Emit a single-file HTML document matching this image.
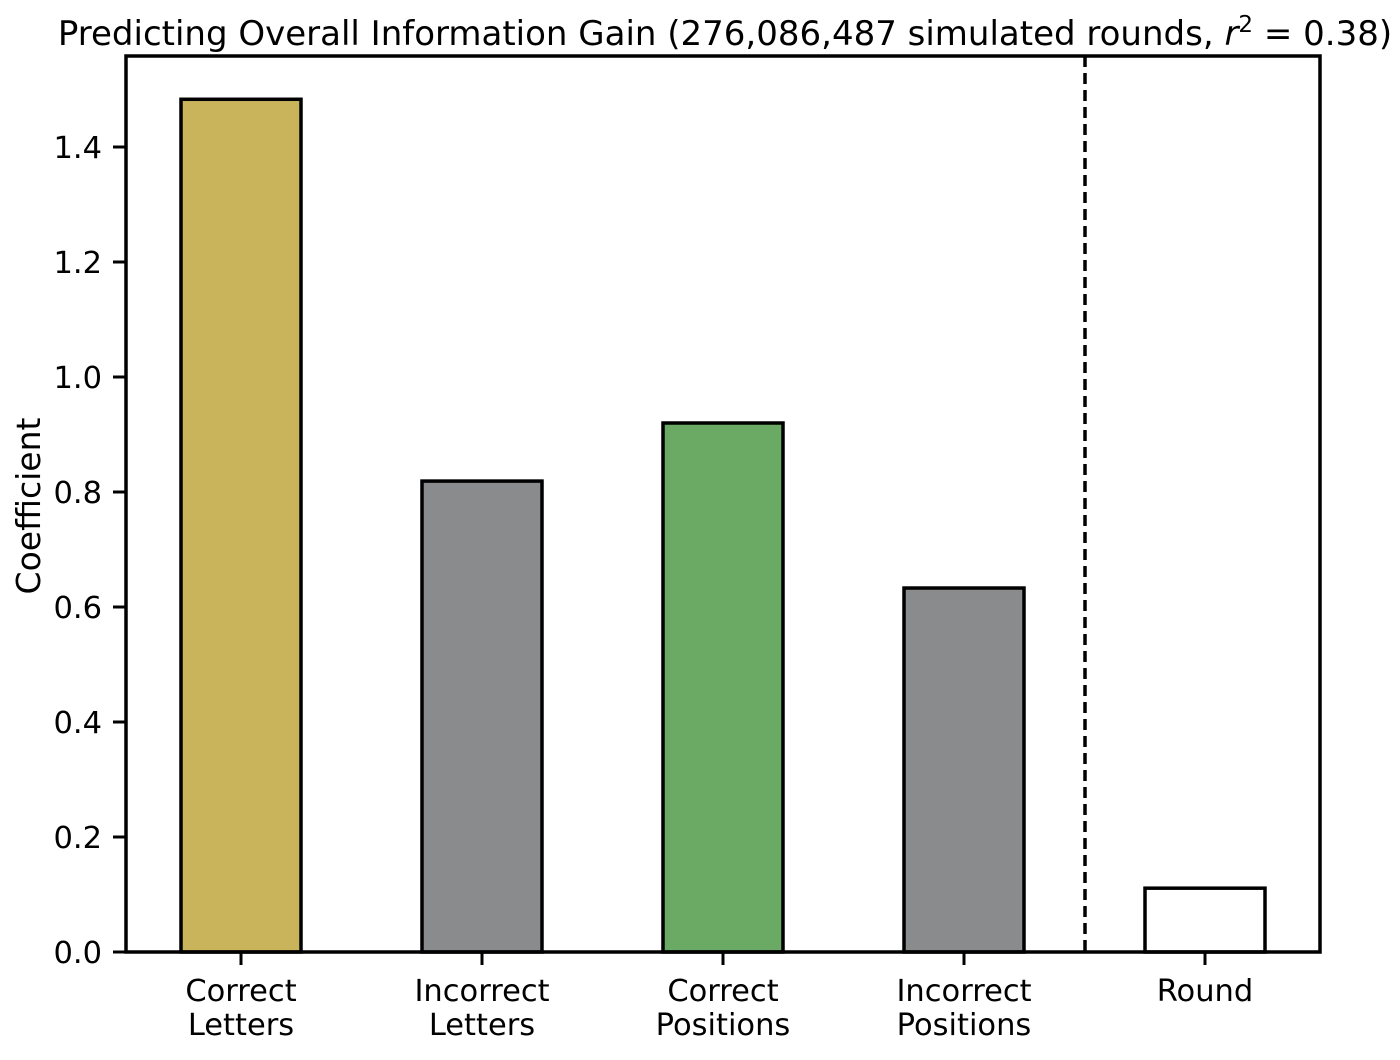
<!DOCTYPE html>
<html><head><meta charset="utf-8"><style>
body{margin:0;background:#fff}
svg text{font-family:"DejaVu Sans","Liberation Sans",sans-serif;fill:#000}
</style></head><body>
<svg id="chart" width="1400" height="1055" xmlns="http://www.w3.org/2000/svg">
<text x="725" y="45" font-size="34" text-anchor="middle">Predicting Overall Information Gain (276,086,487 simulated rounds, <tspan font-style="italic">r</tspan><tspan dy="-13" font-size="23">2</tspan><tspan dy="13"> = 0.38)</tspan></text>
<text transform="translate(40,506) rotate(-90)" font-size="33" text-anchor="middle">Coefficient</text>
<g id="bars"></g>
<g id="yaxis"></g>
<g id="xaxis"></g>
<line x1="1085" y1="56" x2="1085" y2="952" stroke="#000" stroke-width="3.5" stroke-dasharray="11,6"/>
<rect x="126" y="56" width="1194" height="896" fill="none" stroke="#000" stroke-width="3.5"/>
</svg>
<script>
const categories=[["Correct","Letters"],["Incorrect","Letters"],["Correct","Positions"],["Incorrect","Positions"],["Round"]];
const values=[1.483,0.819,0.92,0.633,0.111];
const colors=["#c9b45c","#8a8b8c","#6aaa64","#8a8b8c","#ffffff"];
const yTicks=[0,0.2,0.4,0.6,0.8,1.0,1.2,1.4];
const yTickLabels=["0.0","0.2","0.4","0.6","0.8","1.0","1.2","1.4"];
const NS="http://www.w3.org/2000/svg";
const y0=952,pxPerUnit=575;
const y=v=>y0-v*pxPerUnit;
const x=i=>241+i*241;
const bw=120;
function mk(t,a,p){const e=document.createElementNS(NS,t);for(const k in a)e.setAttribute(k,a[k]);p.appendChild(e);return e;}
const bars=document.getElementById('bars'),ya=document.getElementById('yaxis'),xa=document.getElementById('xaxis');
values.forEach((v,i)=>{
 const r=mk('rect',{x:x(i)-bw/2,y:y(v),width:bw,height:y0-y(v),fill:colors[i],stroke:'#000','stroke-width':3.5},bars);
 
 
 const t=mk('line',{x1:x(i),x2:x(i),y1:y0,y2:y0+13,stroke:'#000','stroke-width':3},xa);
 
 
 categories[i].forEach((s,j)=>{
  const l=mk('text',{x:x(i),y:1001+j*34,'font-size':30.5,'text-anchor':'middle'},xa);
  l.textContent=s;
  
  
 });
});
yTicks.forEach((v,i)=>{
 const t=mk('line',{x1:113,x2:126,y1:y(v),y2:y(v),stroke:'#000','stroke-width':3},ya);
 
 
 const l=mk('text',{x:102,y:y(v)+11,'font-size':30.5,'text-anchor':'end'},ya);
 l.textContent=yTickLabels[i];
 
 
});
</script>
</body></html>
